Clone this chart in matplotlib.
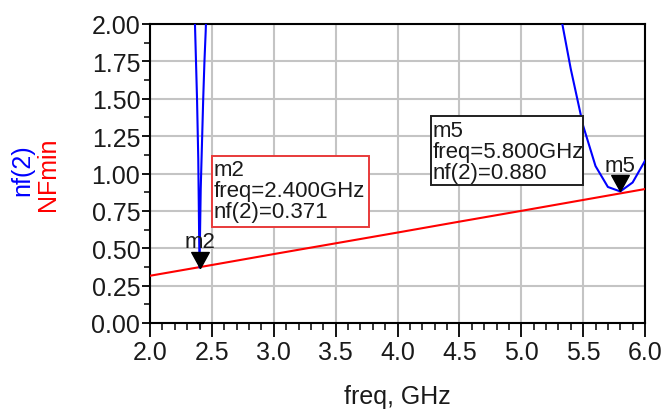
import matplotlib
matplotlib.use("Agg")
import matplotlib.pyplot as plt
from matplotlib.patches import Rectangle
from matplotlib.ticker import MultipleLocator, FormatStrFormatter

plt.rcParams['font.family'] = ['Liberation Sans', 'DejaVu Sans']

# noise figure of the amplifier, nf(2), in dB (off-scale values are clipped by the axes)
nf_freq = [2.34, 2.35, 2.36, 2.37, 2.38, 2.39, 2.40, 2.41, 2.42, 2.43, 2.44, 2.45, 2.46,
           2.5, 3.0, 3.5, 4.0, 4.5, 5.0, 5.1, 5.2, 5.3, 5.4, 5.5, 5.6, 5.7, 5.8, 5.9, 6.0]
nf_vals = [3.0, 2.5, 2.1, 1.8, 1.5, 1.1, 0.371, 0.9, 1.2, 1.5, 1.75, 1.95, 2.2,
           2.9, 5.5, 7.0, 7.5, 6.5, 4.0, 3.3, 2.7, 2.14, 1.70, 1.32, 1.05, 0.91, 0.880, 0.94, 1.085]

# minimum noise figure NFmin
nfmin_freq = [2.0, 2.5, 3.0, 3.5, 4.0, 4.5, 5.0, 5.5, 6.0]
nfmin_vals = [0.316, 0.388, 0.461, 0.533, 0.605, 0.678, 0.750, 0.823, 0.896]

# markers: name, frequency (GHz), nf(2) value
markers = [("m2", 2.4, 0.371), ("m5", 5.8, 0.880)]

fig = plt.figure(figsize=(6.66, 4.10), dpi=100)
ax = fig.add_axes([150 / 666, 86 / 410, 495 / 666, 299 / 410])

ax.plot(nfmin_freq, nfmin_vals, color='#ff0000', lw=1.5, zorder=3)
ax.plot(nf_freq, nf_vals, color='#0000ff', lw=1.5, zorder=4)

ax.set_xlim(2.0, 6.0)
ax.set_ylim(0.0, 2.0)
ax.xaxis.set_major_locator(MultipleLocator(0.5))
ax.xaxis.set_minor_locator(MultipleLocator(0.1))
ax.yaxis.set_major_locator(MultipleLocator(0.25))
ax.yaxis.set_minor_locator(MultipleLocator(0.125))
ax.xaxis.set_major_formatter(FormatStrFormatter('%.1f'))
ax.yaxis.set_major_formatter(FormatStrFormatter('%.2f'))
ax.tick_params(axis='both', which='both', direction='out', colors='black',
               labelsize=18, labelcolor='#1a1a1a')
ax.tick_params(axis='x', which='major', length=10, width=1.3, pad=2)
ax.tick_params(axis='x', which='minor', length=5, width=1.1)
ax.tick_params(axis='y', which='major', length=6, width=1.3, pad=1)
ax.tick_params(axis='y', which='minor', length=4, width=1.1)
ax.grid(True, which='major', color='#c4c4c4', lw=1.5)
ax.set_axisbelow(True)
for sp in ax.spines.values():
    sp.set_linewidth(1.5)

ax.set_xlabel('freq, GHz', fontsize=18, color='#1a1a1a', labelpad=15)
fig.text(22 / 666, 1 - 170 / 410, 'nf(2)', color='#0000ff', fontsize=18,
         rotation=90, ha='center', va='center')
fig.text(48 / 666, 1 - 174 / 410, 'NFmin', color='#ff0000', fontsize=18,
         rotation=90, ha='center', va='center')

# downward triangle with its tip on the data point
tri = [(0, 0), (-0.55, 1.0), (0.55, 1.0), (0, 0)]
for name, f, v in markers:
    ax.plot([f], [v], marker=tri, ms=23, color='black', lw=0, zorder=6, clip_on=False)
    ax.annotate(name, (f, v), xytext=(0, 11), textcoords='offset points',
                ha='center', va='bottom', fontsize=16, color='#1a1a1a', zorder=7)

# readout boxes
boxes = [(markers[0], 2.499, 3.770, 1.119, 0.640, '#e83a3a'),
         (markers[1], 4.268, 5.503, 1.383, 0.923, '#202020')]
for (name, f, v), x0, x1, y1, y0, ec in boxes:
    ax.add_patch(Rectangle((x0, y0), x1 - x0, y1 - y0, fill=True, facecolor='white',
                           edgecolor=ec, lw=1.4, zorder=5))
    ax.text(x0 + 0.015, y1 - 0.025, f"{name}\nfreq={f:.3f}GHz\nnf(2)={v:.3f}",
            ha='left', va='top', fontsize=16, color='#1a1a1a',
            linespacing=1.0, zorder=6)

fig.savefig('out.png', dpi=100)
